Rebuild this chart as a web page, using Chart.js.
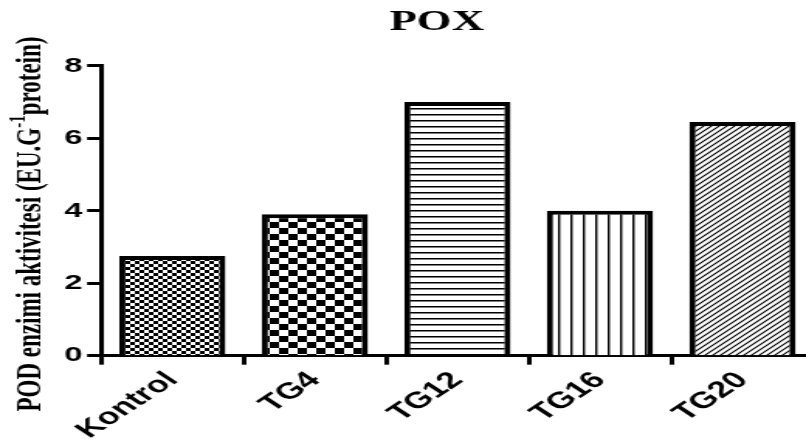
<!DOCTYPE html>
<html>
<head>
<meta charset="utf-8">
<script src="https://cdn.jsdelivr.net/npm/chart.js@4"></script>
<style>
  html, body { margin: 0; padding: 0; background: #fff; overflow: hidden; }
  /* the reference is a horizontally stretched figure, so draw narrow and stretch */
  #wrap { width: 562px; height: 448px; transform: scaleX(1.55); transform-origin: 0 0; }
</style>
</head>
<body>
<div id="wrap"><canvas id="poxChart"></canvas></div>
<script>
const groups = ['Kontrol', 'TG4', 'TG12', 'TG16', 'TG20'];
const podValues = [2.75, 3.9, 7.0, 4.0, 6.45];
const yTicks = [0, 2, 4, 6, 8];

function makePattern(w, h, draw) {
    const c = document.createElement('canvas');
    c.width = w;
    c.height = h;
    const g = c.getContext('2d');
    g.fillStyle = '#fff';
    g.fillRect(0, 0, w, h);
    g.fillStyle = '#000';
    g.strokeStyle = '#000';
    draw(g, w, h);
    return g.createPattern(c, 'repeat');
}

const patterns = [
    // fine checkerboard
    makePattern(6, 6, g => { g.fillRect(0, 0, 3, 3); g.fillRect(3, 3, 3, 3); }),
    // coarse checkerboard
    makePattern(12, 12, g => { g.fillRect(0, 0, 6, 6); g.fillRect(6, 6, 6, 6); }),
    // horizontal lines
    makePattern(4, 6, (g, w) => { g.fillRect(0, 0, w, 1.5); }),
    // vertical lines
    makePattern(8, 4, (g, w, h) => { g.fillRect(0, 0, 1.4, h); }),
    // diagonal lines
    makePattern(5, 5, g => {
        g.lineWidth = 1.1;
        g.beginPath();
        g.moveTo(-1, 6); g.lineTo(6, -1);
        g.moveTo(-1, 1); g.lineTo(1, -1);
        g.moveTo(4, 6); g.lineTo(6, 4);
        g.stroke();
    })
];

const yTitle = {
    id: 'yTitle',
    afterDraw(chart) {
        const ctx = chart.ctx;
        const big = 'bold 23px "Liberation Serif", "Times New Roman", serif';
        const small = 'bold 15px "Liberation Serif", "Times New Roman", serif';
        const a = 'POD enzimi aktivitesi (EU.G';
        const sup = '-1';
        const b = 'protein)';
        ctx.save();
        ctx.font = big;
        const wa = ctx.measureText(a).width;
        const wb = ctx.measureText(b).width;
        ctx.font = small;
        const ws = ctx.measureText(sup).width;
        const total = wa + ws + wb;
        ctx.translate(20, chart.height / 2);
        ctx.rotate(-Math.PI / 2);
        ctx.fillStyle = '#000';
        ctx.textBaseline = 'middle';
        ctx.textAlign = 'left';
        let x = -total / 2;
        ctx.font = big;
        ctx.fillText(a, x, 0);
        x += wa;
        ctx.font = small;
        ctx.fillText(sup, x, -8);
        x += ws;
        ctx.font = big;
        ctx.fillText(b, x, 0);
        ctx.restore();
    }
};

new Chart(document.getElementById('poxChart'), {
    type: 'bar',
    data: {
        labels: groups,
        datasets: [{
            label: 'POX',
            data: podValues,
            backgroundColor: patterns,
            borderColor: '#000',
            borderWidth: 4,
            barPercentage: 0.745,
            categoryPercentage: 1
        }]
    },
    options: {
        responsive: true,
        maintainAspectRatio: false,
        animation: false,
        layout: {
            padding: { left: 38.5, right: 37, top: 0, bottom: 2 }
        },
        scales: {
            y: {
                min: 0,
                max: 8,
                afterBuildTicks: axis => { axis.ticks = yTicks.map(v => ({ value: v })); },
                ticks: {
                    color: '#000',
                    padding: 3,
                    font: { family: '"Liberation Sans", Arial, sans-serif', weight: 'bold', size: 21 }
                },
                grid: {
                    drawOnChartArea: false,
                    drawTicks: true,
                    tickLength: 9,
                    tickWidth: 3,
                    color: '#000'
                },
                border: { display: true, width: 3, color: '#000' }
            },
            x: {
                // rotated labels must not push the plot area sideways
                afterFit: axis => { axis.paddingLeft = 0; axis.paddingRight = 0; },
                ticks: {
                    color: '#000',
                    maxRotation: 45,
                    minRotation: 45,
                    padding: 2,
                    font: { family: '"Liberation Sans", Arial, sans-serif', weight: 'bold', size: 23 }
                },
                grid: {
                    drawOnChartArea: false,
                    drawTicks: true,
                    tickLength: 9,
                    tickWidth: 3,
                    color: '#000'
                },
                border: { display: true, width: 3, color: '#000' }
            }
        },
        plugins: {
            legend: { display: false },
            tooltip: { enabled: false },
            title: {
                display: true,
                text: 'POX',
                color: '#000',
                font: { family: '"Liberation Serif", "Times New Roman", serif', weight: 'bold', size: 29, lineHeight: 1.2 },
                padding: { top: 5, bottom: 26 }
            }
        }
    },
    plugins: [yTitle]
});
</script>
</body>
</html>
